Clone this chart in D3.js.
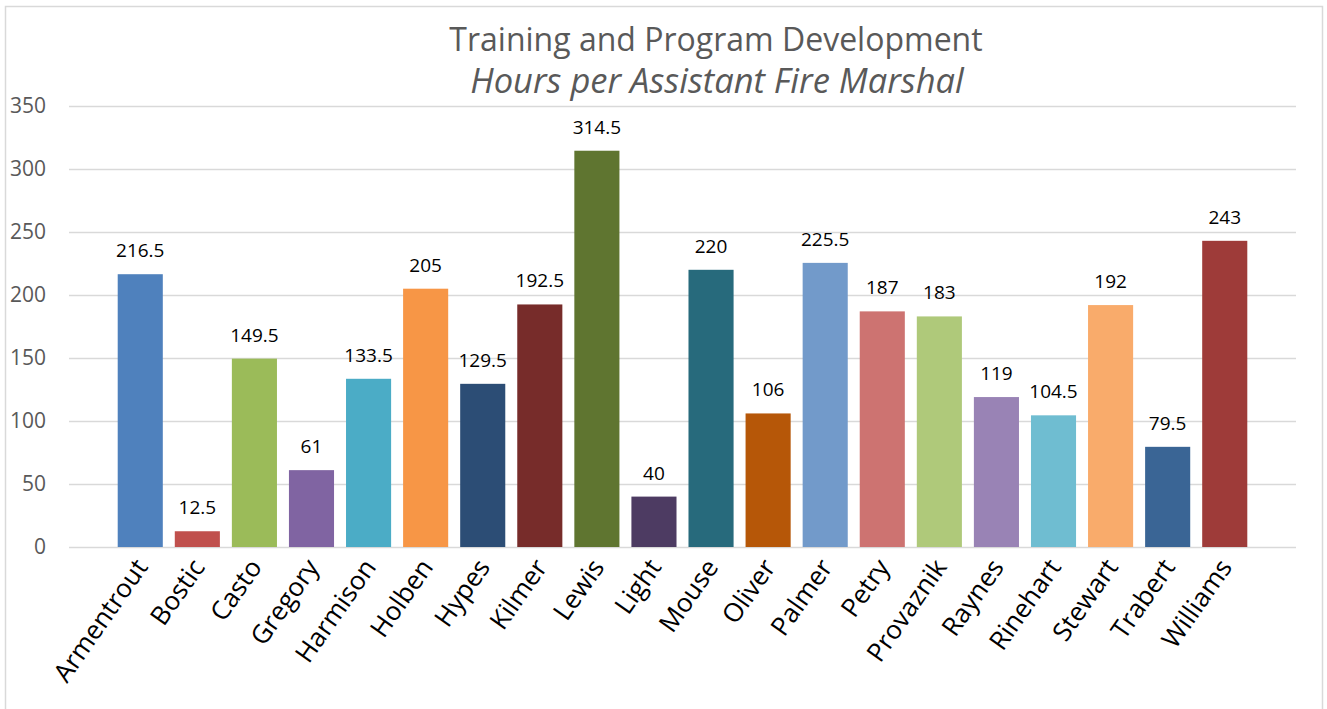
<!DOCTYPE html>
<html>
<head>
<meta charset="utf-8">
<script src="https://cdn.jsdelivr.net/npm/d3@7"></script>
<style>
  body { margin: 0; background: #fff; }
  text { font-family: "Open Sans", sans-serif; }
</style>
</head>
<body>
<div id="scene"></div>
<script>
var names = ["Armentrout", "Bostic", "Casto", "Gregory", "Harmison", "Holben", "Hypes",
  "Kilmer", "Lewis", "Light", "Mouse", "Oliver", "Palmer", "Petry", "Provaznik",
  "Raynes", "Rinehart", "Stewart", "Trabert", "Williams"];
var hours = [216.5, 12.5, 149.5, 61, 133.5, 205, 129.5, 192.5, 314.5, 40, 220, 106,
  225.5, 187, 183, 119, 104.5, 192, 79.5, 243];
var colors = ["#4f81bd", "#c0504d", "#9bbb59", "#8064a2", "#4bacc6", "#f79646", "#2c4d75",
  "#772c2a", "#5f7530", "#4d3b62", "#276a7c", "#b65708", "#729aca", "#cd7371", "#afc97a",
  "#9983b5", "#6fbdd1", "#f9ab6b", "#3a6595", "#9e3b39"];
var yTicks = [0, 50, 100, 150, 200, 250, 300, 350];

var ctx = {
  w: 1327,
  h: 709,
  left: 69,
  right: 1296,
  top: 106,
  bottom: 547
};

var svg = d3.select("#scene").append("svg")
  .attr("width", ctx.w)
  .attr("height", ctx.h);

// chart frame
svg.append("rect")
  .attr("x", 5.5).attr("y", 6.5)
  .attr("width", 1317).attr("height", 720)
  .style("fill", "#fff")
  .style("stroke", "#d9d9d9")
  .style("stroke-width", 1.5);

var x = d3.scaleBand()
  .domain(names)
  .range([112, 1253])
  .paddingInner(0.21)
  .paddingOuter(0.1);

var y = d3.scaleLinear()
  .domain([0, 350])
  .range([ctx.bottom, ctx.top]);

// gridlines + y labels
var yAxis = d3.axisLeft(y)
  .tickValues(yTicks)
  .tickSize(-(ctx.right - ctx.left))
  .tickPadding(23);

var gy = svg.append("g")
  .attr("transform", "translate(" + ctx.left + ",0)")
  .call(yAxis);
gy.select(".domain").remove();
gy.selectAll(".tick line")
  .style("stroke", "#d9d9d9")
  .style("stroke-width", 1.5);
gy.selectAll(".tick text")
  .style("font-family", "'Open Sans', sans-serif")
  .style("font-size", "21px")
  .style("fill", "#595959");

// bars
svg.selectAll("rect.bar")
  .data(hours)
  .enter()
  .append("rect")
  .attr("class", "bar")
  .attr("x", function(d, i) { return x(names[i]); })
  .attr("width", x.bandwidth())
  .attr("y", function(d) { return y(d); })
  .attr("height", function(d) { return y(0) - y(d); })
  .style("fill", function(d, i) { return colors[i]; });

// value labels
svg.selectAll("text.val")
  .data(hours)
  .enter()
  .append("text")
  .attr("class", "val")
  .attr("x", function(d, i) { return x(names[i]) + x.bandwidth() / 2; })
  .attr("y", function(d) { return y(d) - 17; })
  .attr("text-anchor", "middle")
  .style("font-size", "19px")
  .style("fill", "#000")
  .text(function(d) { return d; });

// category labels
var xAxis = d3.axisBottom(x).tickSize(0).tickPadding(0);
var gx = svg.append("g")
  .attr("transform", "translate(0," + ctx.bottom + ")")
  .call(xAxis);
gx.select(".domain").remove();
gx.selectAll(".tick text")
  .attr("text-anchor", "end")
  .attr("dy", "0.35em")
  .attr("transform", "translate(1,15) rotate(-55)")
  .attr("y", 0)
  .style("font-family", "'Open Sans', sans-serif")
  .style("font-size", "26px")
  .style("fill", "#000");

// titles
svg.append("text")
  .attr("x", 716).attr("y", 51)
  .attr("text-anchor", "middle")
  .style("font-size", "32px")
  .style("fill", "#595959")
  .text("Training and Program Development");

svg.append("text")
  .attr("x", 717).attr("y", 93)
  .attr("text-anchor", "middle")
  .style("font-size", "34.5px")
  .style("font-style", "italic")
  .style("fill", "#595959")
  .text("Hours per Assistant Fire Marshal");
</script>
</body>
</html>
